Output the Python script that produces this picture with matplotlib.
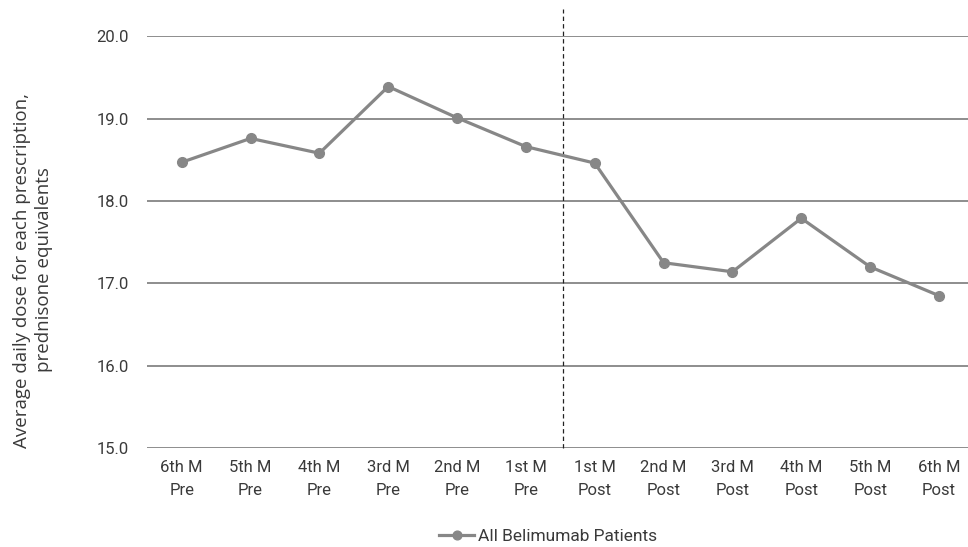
import matplotlib.pyplot as plt

months = ["6th M\nPre", "5th M\nPre", "4th M\nPre", "3rd M\nPre", "2nd M\nPre", "1st M\nPre",
          "1st M\nPost", "2nd M\nPost", "3rd M\nPost", "4th M\nPost", "5th M\nPost", "6th M\nPost"]
avg_dose = [18.47, 18.76, 18.58, 19.39, 19.01, 18.66,
            18.46, 17.25, 17.14, 17.79, 17.20, 16.85]
y_ticks = [15.0, 16.0, 17.0, 18.0, 19.0, 20.0]
series_name = "All Belimumab Patients"

line_col = "#878787"
text_col = "#3a3a3a"
grid_col = "#7a7a7a"
tick_font = ["Roboto", "DejaVu Sans"]

fig = plt.figure(figsize=(9.68, 5.47), dpi=100)
ax = fig.add_axes([147.3 / 968, 1 - 448 / 547, 826.1 / 968, (448 - 36.3) / 547])

x = list(range(len(months)))
ax.plot(x, avg_dose, color=line_col, lw=2.3, marker="o", ms=7, label=series_name, zorder=3)

# split between pre / post
ax.plot([5.54, 5.54], [15.0, 20.33], color="#222222", lw=0.9, ls=(0, (3.5, 2.5)),
        clip_on=False, zorder=2)

ax.set_xlim(-0.5, 11.5)
ax.set_ylim(15, 20)
ax.set_yticks(y_ticks)
ax.set_yticklabels([f"{v:.1f}" for v in y_ticks], fontsize=12, color=text_col, family=tick_font)
ax.set_xticks(x)
ax.set_xticklabels(months, fontsize=12, color=text_col, family=tick_font, linespacing=1.6)
ax.tick_params(axis="both", length=0)
ax.tick_params(axis="x", pad=9)
ax.tick_params(axis="y", pad=13)

for v in y_ticks:
    ax.axhline(v, color=grid_col, lw=1.2, zorder=1)
for s in ax.spines.values():
    s.set_visible(False)

fig.text(33 / 968, 1 - 270 / 547,
         "Average daily dose for each prescription,\nprednisone equivalents",
         rotation=90, ha="center", va="center", fontsize=13.5, color=text_col,
         family=["Open Sans", "DejaVu Sans"], linespacing=1.3)

fig.legend(loc="center", bbox_to_anchor=(548 / 968, 1 - 536 / 547), frameon=False,
           prop={"family": tick_font, "size": 12.5}, labelcolor=text_col,
           handlelength=2.0, handletextpad=0.2, markerscale=0.9)

fig.savefig("out.png", dpi=100)
